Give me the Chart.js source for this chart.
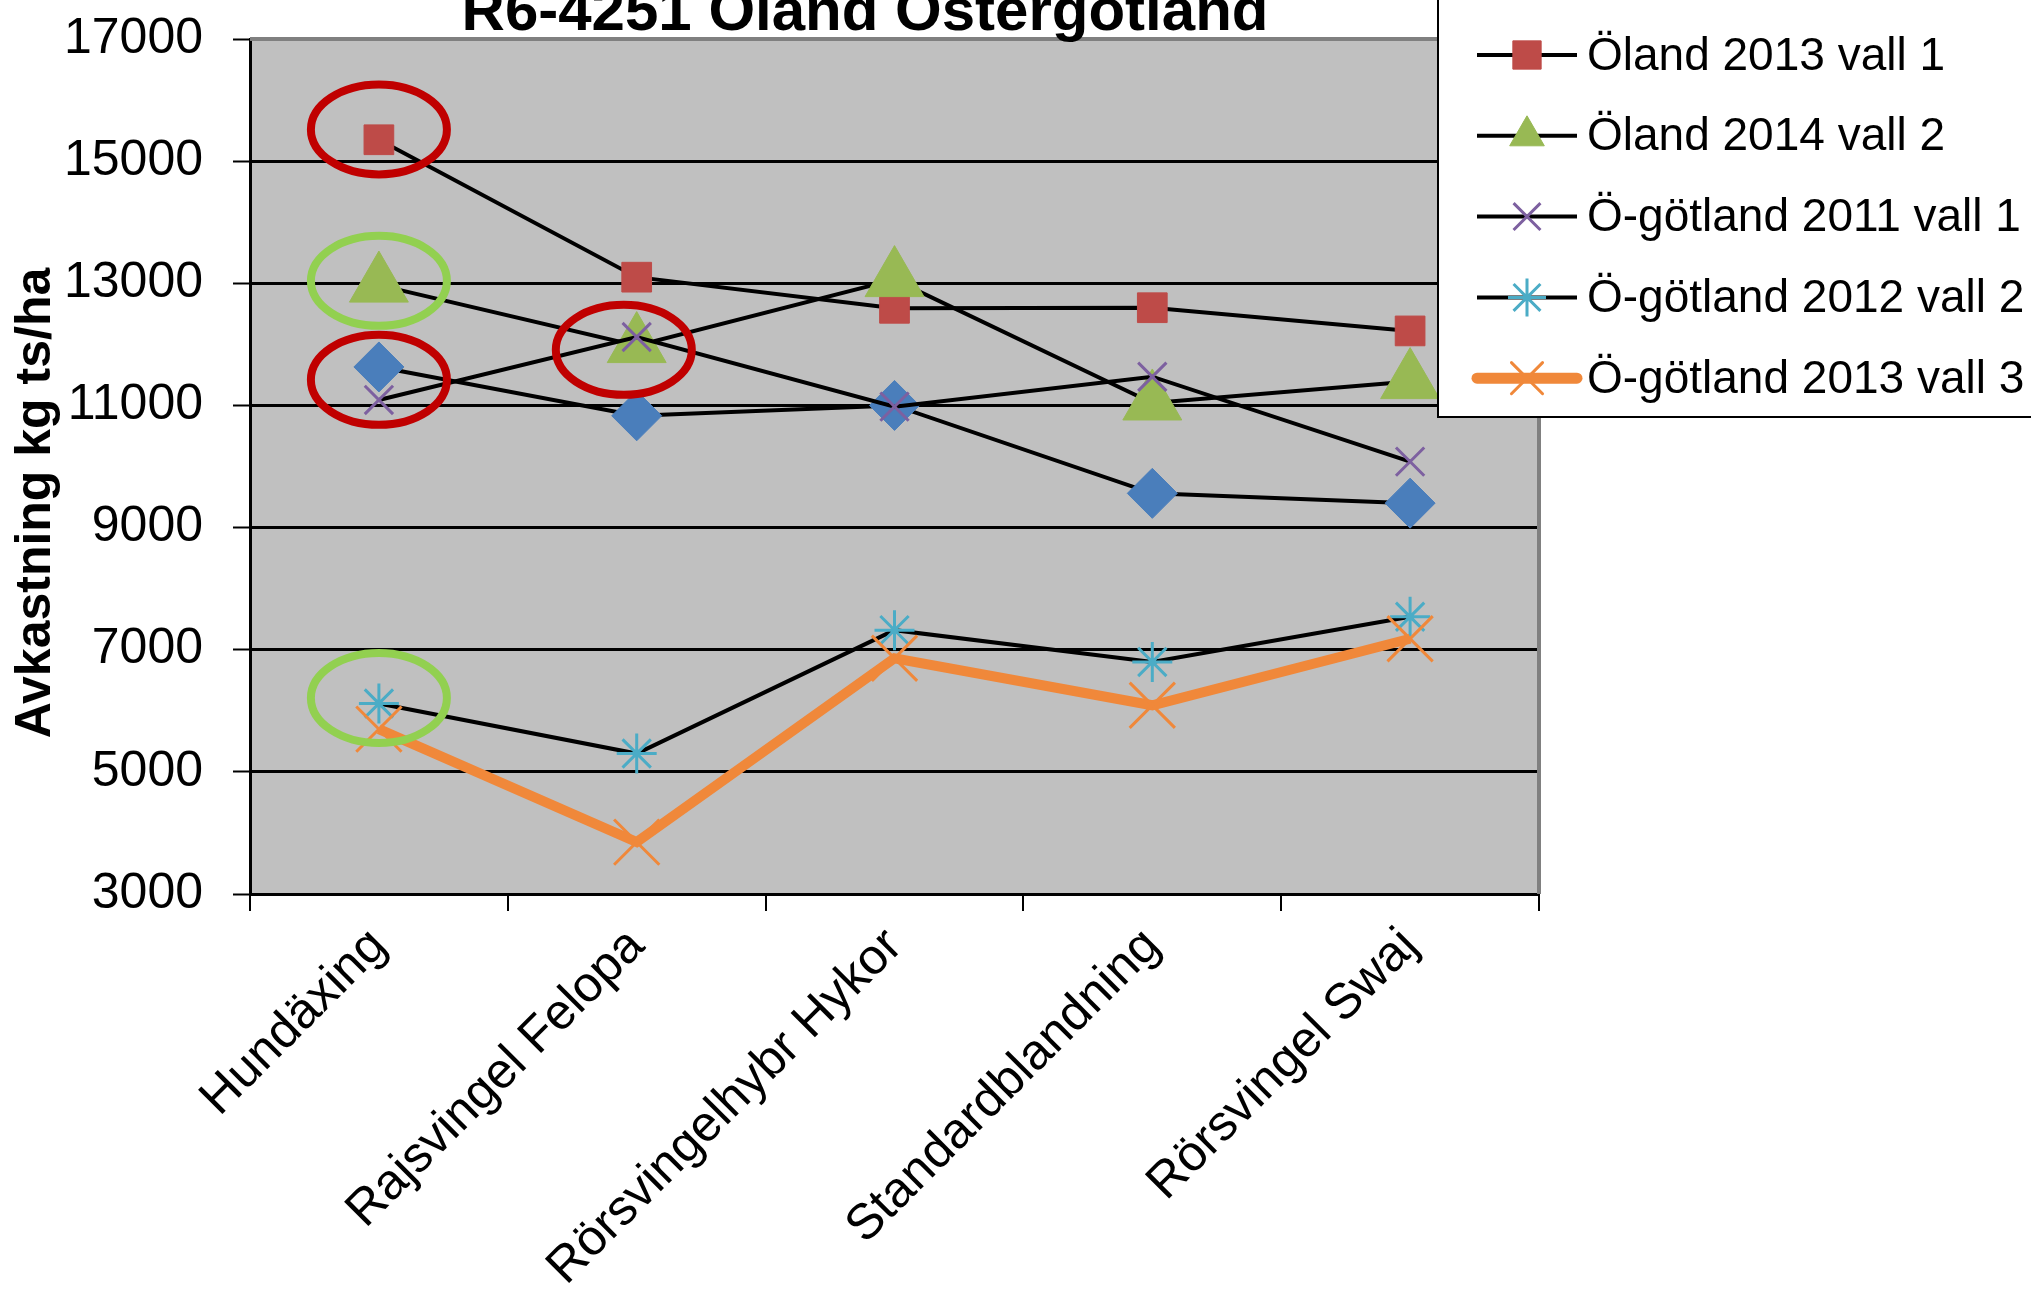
<!DOCTYPE html>
<html lang="sv">
<head>
<meta charset="utf-8">
<title>R6-4251 Öland Östergötland</title>
<script src="https://cdn.jsdelivr.net/npm/chart.js@4.4.1/dist/chart.umd.min.js"></script>
<style>
  html, body { margin: 0; padding: 0; background: #fff; }
  canvas { display: block; }
</style>
</head>
<body>
<canvas id="graph1" width="2031" height="1291"></canvas>
<script>
//グラフのデータ
var labels = ['Hundäxing', 'Rajsvingel Felopa', 'Rörsvingelhybr Hykor', 'Standardblandning', 'Rörsvingel Swaj'];
var blaSerie  = [11630, 10830, 11000, 9560, 9400];   // legend entry cut off in the original
var oland2013 = [15350, 13100, 12590, 12600, 12220];
var oland2014 = [12970, 11980, 13060, 11040, 11390];
var ogot2011  = [11090, 12120, 10980, 11470, 10080];
var ogot2012  = [6120, 5300, 7320, 6800, 7540];
var ogot2013  = [5700, 3850, 6860, 6090, 7180];
var names = ['', 'Öland 2013 vall 1', 'Öland 2014 vall 2', 'Ö-götland 2011 vall 1', 'Ö-götland 2012 vall 2', 'Ö-götland 2013 vall 3'];
var yMin = 3000, yMax = 17000, yStep = 2000;
var title = 'R6-4251 Öland Östergötland';
var yTitle = 'Avkastning kg ts/ha';

// ringar (category index, value)
var ringar = [
  {cat: 0, value: 15520, color: '#C00000'},
  {cat: 0, value: 13040, color: '#92D050'},
  {cat: 0, value: 11420, color: '#C00000'},
  {cat: 0.95, value: 11910, color: '#C00000'},
  {cat: 0, value: 6210, color: '#92D050'}
];

//スタイル
var font = "'Liberation Sans', Arial, sans-serif";
var series = [blaSerie, oland2013, oland2014, ogot2011, ogot2012, ogot2013];
var cols = ['#4A7EBB', '#BE4B48', '#98B954', '#7D60A0', '#4BACC6', '#F0883A'];
var lineCols = ['#000', '#000', '#000', '#000', '#000', '#F0883A'];
var lineW = [4, 4, 4, 4, 4, 10];
var styles = ['rectRot', 'rect', 'triangle', 'crossRot', 'star', 'crossRot'];
var radius = [25, 21, 34, 20, 20, 32];
var pbw = [1, 1, 1, 3, 3, 3];
var legendRadius = [0, 20, 20, 19, 19, 22];

var datasets = [];
for (let i = 0; i < series.length; i++) {
  datasets.push({
    label: names[i],
    data: series[i],
    borderColor: lineCols[i],
    borderWidth: lineW[i],
    pointStyle: styles[i],
    pointRadius: radius[i],
    pointHoverRadius: radius[i],
    pointBackgroundColor: cols[i],
    pointBorderColor: cols[i],
    pointBorderWidth: pbw[i],
    tension: 0,
    fill: false,
    order: series.length - i
  });
}

function drawMarker(ctx, i, r, x, y) {
  ctx.save();
  ctx.fillStyle = cols[i];
  ctx.strokeStyle = cols[i];
  ctx.lineWidth = pbw[i];
  Chart.helpers.drawPoint(ctx, {pointStyle: styles[i], radius: r, rotation: 0, borderWidth: pbw[i]}, x, y);
  ctx.restore();
}

var plotBg = {
  id: 'plotBg',
  beforeDraw: function(chart) {
    var a = chart.chartArea, ctx = chart.ctx;
    ctx.save();
    ctx.fillStyle = '#C0C0C0';
    ctx.fillRect(a.left, a.top, a.right - a.left, a.bottom - a.top);
    ctx.restore();
  },
  beforeDatasetsDraw: function(chart) {
    var a = chart.chartArea, ctx = chart.ctx;
    ctx.save();
    ctx.strokeStyle = '#808080';
    ctx.lineWidth = 4;
    ctx.beginPath();
    ctx.moveTo(a.left, a.top);
    ctx.lineTo(a.right, a.top);
    ctx.lineTo(a.right, a.bottom);
    ctx.stroke();
    ctx.restore();
  }
};

var rings = {
  id: 'rings',
  afterDatasetsDraw: function(chart) {
    var ctx = chart.ctx, xs = chart.scales.x, ys = chart.scales.y;
    ctx.save();
    ctx.lineWidth = 8;
    for (let r of ringar) {
      ctx.strokeStyle = r.color;
      ctx.beginPath();
      ctx.ellipse(xs.getPixelForValue(r.cat), ys.getPixelForValue(r.value), 68, 45, 0, 0, Math.PI * 2);
      ctx.stroke();
    }
    ctx.restore();
  }
};

var extras = {
  id: 'extras',
  afterDraw: function(chart) {
    var ctx = chart.ctx;
    ctx.save();
    //タイトル (top is cut off in the original)
    ctx.fillStyle = '#000';
    ctx.font = 'bold 60px ' + font;
    ctx.textAlign = 'center';
    ctx.textBaseline = 'alphabetic';
    ctx.fillText(title, 865, 30);

    //y軸タイトル
    ctx.save();
    ctx.translate(36, 503);
    ctx.rotate(-Math.PI / 2);
    ctx.font = 'bold 50px ' + font;
    ctx.textBaseline = 'middle';
    ctx.fillText(yTitle, 0, 0);
    ctx.restore();

    //凡例
    ctx.fillStyle = '#fff';
    ctx.fillRect(1438, -10, 620, 427);
    ctx.strokeStyle = '#000';
    ctx.lineWidth = 2;
    ctx.strokeRect(1438, -10, 620, 427);
    ctx.font = '46px ' + font;
    ctx.textAlign = 'left';
    ctx.textBaseline = 'middle';
    for (let i = 1; i < series.length; i++) {
      var y = 55 + (i - 1) * 80.8;
      ctx.strokeStyle = lineCols[i];
      ctx.lineWidth = i == 5 ? 11 : 4;
      ctx.lineCap = i == 5 ? 'round' : 'butt';
      ctx.beginPath();
      ctx.moveTo(1477, y);
      ctx.lineTo(1577, y);
      ctx.stroke();
      drawMarker(ctx, i, legendRadius[i], 1527, y);
      ctx.fillStyle = '#000';
      ctx.fillText(names[i], 1587, y + 2);
    }
    ctx.restore();
  }
};

document.addEventListener('DOMContentLoaded', function() {
  var ctx = document.querySelector('#graph1').getContext('2d');
  var chart = new Chart(ctx, {
    type: 'line',
    data: { labels: labels, datasets: datasets },
    options: {
      responsive: false,
      animation: false,
      layout: { padding: { top: 39, right: 492, bottom: 0, left: 0 } },
      plugins: { legend: { display: false }, tooltip: { enabled: false }, title: { display: false } },
      scales: {
        x: {
          offset: true,
          grid: { offset: true, drawOnChartArea: false, drawTicks: true, tickLength: 17, color: '#000', lineWidth: 2 },
          border: { display: true, color: '#000', width: 3 },
          ticks: { minRotation: 45, maxRotation: 45, autoSkip: false, padding: 6, color: '#000', font: { family: font, size: 50 } },
          afterFit: function(s) { s.height = 397; s.paddingLeft = 0; s.paddingRight = 0; }
        },
        y: {
          min: yMin,
          max: yMax,
          ticks: {
            stepSize: yStep, padding: 30, color: '#000', font: { family: font, size: 50 },
            callback: function(v) { return String(v); }
          },
          grid: {
            color: function(c) { return c.tick && c.tick.value == yMax ? '#808080' : '#000'; },
            lineWidth: 3, tickLength: 17, tickColor: '#000', tickWidth: 2
          },
          border: { color: '#000', width: 3 },
          afterFit: function(s) { s.width = 250; s.paddingTop = 0; s.paddingBottom = 0; }
        }
      }
    },
    plugins: [plotBg, rings, extras]
  });
});
</script>
</body>
</html>
